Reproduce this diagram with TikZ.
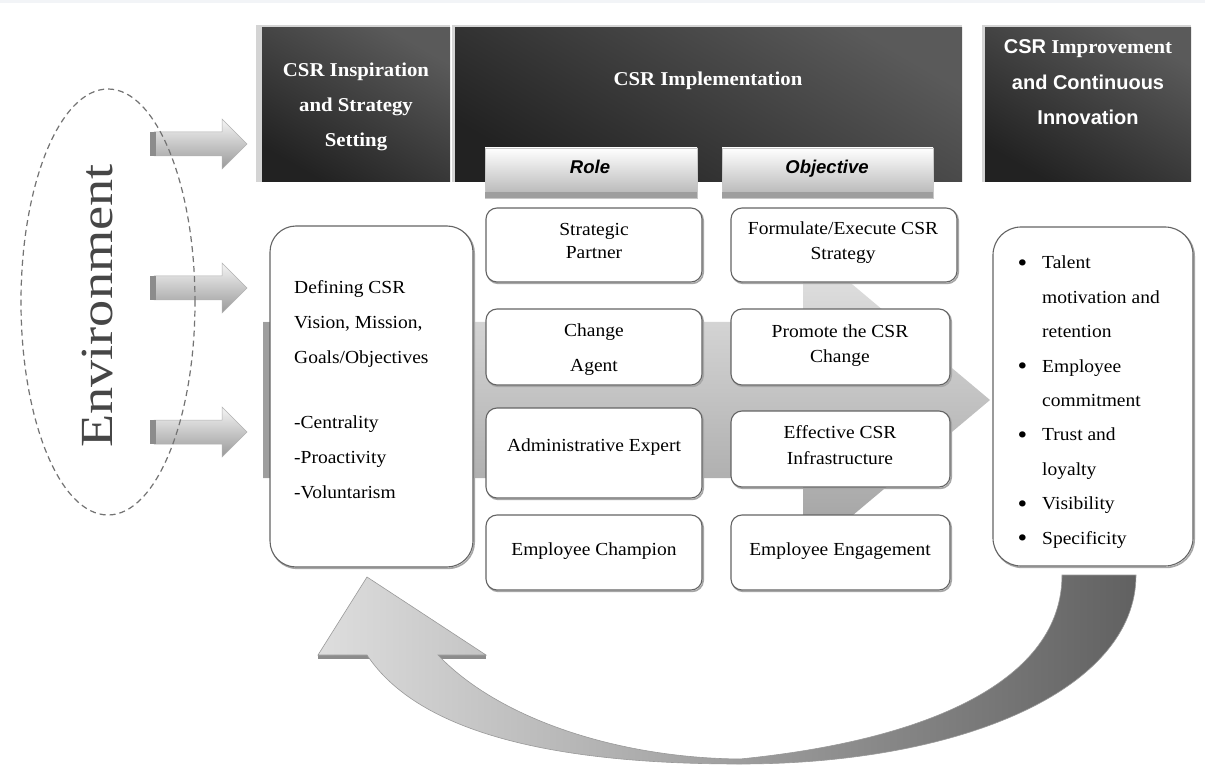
\documentclass[tikz,border=0pt]{standalone}
\usepackage{fontspec}
\setmainfont{Liberation Serif}[FakeStretch=1.06]
\newfontfamily\sansf{Liberation Sans}
\newfontfamily\envfont{Liberation Serif}[FakeStretch=1.18]
\usetikzlibrary{shapes.geometric}
\definecolor{hdrA}{RGB}{90,90,90}
\definecolor{hdrB}{RGB}{34,34,34}
\definecolor{edge}{RGB}{100,100,100}
\definecolor{topstrip}{RGB}{242,244,247}
\definecolor{frameg}{RGB}{212,212,212}
\definecolor{envtxt}{RGB}{70,70,70}
\begin{document}
\begin{tikzpicture}[x=1pt,y=-1pt,
  hdrbox/.style={shade, top color=hdrA, bottom color=hdrB, shading angle=-30, inner sep=0, outer sep=0},
  hdrtxt/.style={text=white, align=center, inner sep=0, font=\bfseries\fontsize{19.6}{35}\selectfont},
  tabbox/.style={shade, top color=white, bottom color=black!30, draw=black!22, line width=.6pt, inner sep=0},
  tabtxt/.style={inner sep=0, font=\sansf\bfseries\itshape\fontsize{18.5}{20}\selectfont},
  cell/.style={draw=edge, line width=1.1pt, fill=white, rounded corners=11pt, inner sep=0,
    preaction={draw=black!35, line width=1.6pt, transform canvas={xshift=1.2pt, yshift=-1.4pt}}},
  celltxt/.style={inner sep=0, align=center},
  bigbox/.style={draw=edge, line width=1.1pt, fill=white, inner sep=0,
    preaction={draw=black!35, line width=1.6pt, transform canvas={xshift=1.2pt, yshift=-1.4pt}}},
  bodytxt/.style={inner sep=0, align=left, anchor=north west},
]
\useasboundingbox (0,0) rectangle (1205,767);
\fill[white] (0,0) rectangle (1205,767);
\fill[topstrip] (0,0) rectangle (1205,3);

% big background arrow
\shade[top color=black!10, bottom color=black!38] (263,322) -- (803,322) -- (803,243) -- (990,400) -- (803,557) -- (803,478) -- (263,478) -- cycle;
\fill[black!38] (263,322) rectangle (270,478);

% small arrows from the environment
\foreach \c in {144,288,432}{
  \shade[top color=black!4, bottom color=black!40, draw=black!30, line width=.5pt] (154,\c-12) -- (222,\c-12) -- (222,\c-25) -- (247,\c) -- (222,\c+25) -- (222,\c+12) -- (154,\c+12) -- cycle;
  \fill[black!45] (150,\c-12) rectangle (156,\c+12);
}

% environment ellipse
\node[ellipse, draw=black!55, line width=1.2pt, dash pattern=on 6pt off 4pt, minimum width=174, minimum height=426, inner sep=0] (envE) at (108,302) {};
\node[rotate=90, inner sep=0, text=envtxt, font=\envfont\fontsize{46}{50}\selectfont] (envT) at (97,306) {Environment};

% header frames and boxes
\fill[frameg] (256,25) rectangle (450,182);
\fill[frameg] (452,25) rectangle (962,182);
\fill[frameg] (982,25) rectangle (1191,182);
\node[hdrbox, minimum width=188, minimum height=154] (h1) at (356,105) {};
\node[hdrbox, minimum width=507, minimum height=154] (h2) at (708.5,105) {};
\node[hdrbox, minimum width=206, minimum height=154] (h3) at (1088,105) {};
\node[hdrtxt] (h1T) at (356,107) {CSR Inspiration\\and Strategy\\Setting};
\node[hdrtxt] (h2T) at (708,80.5) {CSR Implementation};
\node[hdrtxt, font=\bfseries\fontsize{19.6}{35.5}\selectfont] (h3T) at (1088,82.5) {{\sansf\fontsize{20}{35.5}\selectfont CSR} Improvement\\{\sansf\fontsize{20}{35.5}\selectfont and Continuous}\\{\sansf\fontsize{20}{35.5}\selectfont Innovation}};

% Role / Objective tabs
\node[tabbox, minimum width=212, minimum height=50] (roleTab) at (591,173) {};
\node[tabbox, minimum width=211, minimum height=50] (objTab) at (827.5,173) {};
\fill[black!38] (485.3,192.5) rectangle (696.7,197.7);
\fill[black!38] (722.3,192.5) rectangle (932.7,197.7);
\node[tabtxt] (roleT) at (590,167) {Role};
\node[tabtxt] (objT) at (827,168.5) {Objective};

% role cells
\node[cell, minimum width=216, minimum height=74] (sp) at (594,245) {};
\node[cell, minimum width=216, minimum height=76] (ca) at (594,347) {};
\node[cell, minimum width=216, minimum height=90] (ae) at (594,453) {};
\node[cell, minimum width=216, minimum height=75] (ec) at (594,552.5) {};
\node[celltxt, font=\fontsize{18.4}{23}\selectfont] (spT) at (594,241) {Strategic\\Partner};
\node[celltxt, font=\fontsize{18.4}{35}\selectfont] (caT) at (594,350) {Change\\Agent};
\node[celltxt, font=\fontsize{18.4}{23}\selectfont] (aeT) at (594,447.5) {Administrative Expert};
\node[celltxt, font=\fontsize{18.4}{23}\selectfont] (ecT) at (594,551.5) {Employee Champion};

% objective cells
\node[cell, minimum width=226, minimum height=74] (fo) at (844,245) {};
\node[cell, minimum width=219, minimum height=76] (pr) at (840.5,347) {};
\node[cell, minimum width=219, minimum height=76] (ef) at (840.5,449) {};
\node[cell, minimum width=219, minimum height=75] (ee) at (840.5,552.5) {};
\node[celltxt, font=\fontsize{18.4}{25}\selectfont] (foT) at (843,243) {Formulate/Execute CSR\\Strategy};
\node[celltxt, font=\fontsize{18.4}{25}\selectfont] (prT) at (840,346) {Promote the CSR\\Change};
\node[celltxt, font=\fontsize{18.4}{26}\selectfont] (efT) at (840,445.5) {Effective CSR\\Infrastructure};
\node[celltxt, font=\fontsize{18.4}{23}\selectfont] (eeT) at (840,551.5) {Employee Engagement};

% left and right boxes
\node[bigbox, rounded corners=26pt, minimum width=203, minimum height=341] (lb) at (371.5,396.5) {};
\node[bodytxt, font=\fontsize{18.4}{35}\selectfont] (lbT) at (294,280) {Defining CSR\\Vision, Mission,\\Goals/Objectives\\[30pt]-Centrality\\-Proactivity\\-Voluntarism};
\node[bigbox, rounded corners=28pt, minimum width=200, minimum height=339] (rb) at (1093,396.5) {};
\newcommand\bul{\llap{\raisebox{-2.6pt}{\fontsize{26}{26}\selectfont\textbullet}\hspace{15pt}}}
\node[bodytxt, font=\fontsize{18.4}{34.4}\selectfont] (rbT) at (1042,256) {\bul Talent\\motivation and\\retention\\\bul Employee\\commitment\\\bul Trust and\\loyalty\\\bul Visibility\\\bul Specificity};

% feedback curved arrow
\fill[black!45] (318,655) rectangle (486,659);
\shade[left color=black!13, right color=black!62, draw=black!40, line width=.6pt]
  (1136,575) .. controls (1136,690) and (960,764) .. (740,764)
  .. controls (560,764) and (420,735) .. (367,655)
  -- (318,655) -- (367,577) -- (486,655) -- (438,655)
  .. controls (500,720) and (620,758) .. (740,759)
  .. controls (930,740) and (1062,680) .. (1062,575) -- cycle;
\end{tikzpicture}
\end{document}
